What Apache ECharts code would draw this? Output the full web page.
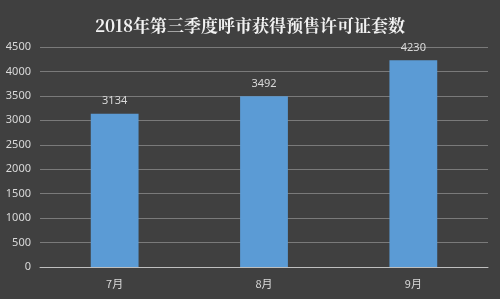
<!DOCTYPE html>
<html><head><meta charset="utf-8">
<script src="https://cdn.jsdelivr.net/npm/echarts@6/dist/echarts.min.js"></script>
<style>html,body{margin:0;padding:0;background:#404040;}#c{width:500px;height:299px;}</style>
</head><body><div id="c"></div>
<script>
const title = '2018年第三季度呼市获得预售许可证套数';
const categories = ['7月', '8月', '9月'];
const values = [3134, 3492, 4230];

const chart = echarts.init(document.getElementById('c'), null, {renderer: 'canvas'});
chart.setOption({
  backgroundColor: '#404040',
  animation: false,
  title: {
    text: title, left: 'center', top: 12,
    textStyle: {color: '#f2f2f2', fontSize: 17, fontWeight: 'bold', fontFamily: '"Noto Serif CJK SC", "Noto Sans CJK SC", serif'}
  },
  grid: {left: 40, right: 12, top: 47, bottom: 32, containLabel: false},
  xAxis: {
    type: 'category', data: categories,
    axisLine: {lineStyle: {color: '#bfbfbf', width: 1}},
    axisTick: {show: false},
    axisLabel: {color: '#d9d9d9', fontSize: 11, margin: 11, fontFamily: '"Noto Sans CJK SC", sans-serif'}
  },
  yAxis: {
    type: 'value', min: 0, max: 4500, interval: 500,
    axisLine: {show: false}, axisTick: {show: false},
    splitLine: {lineStyle: {color: '#7a7a7a', width: 1}},
    axisLabel: {color: '#d9d9d9', fontSize: 11, margin: 9, fontFamily: '"Noto Sans", sans-serif',
      formatter: v => String(v)}
  },
  series: [{
    type: 'bar', data: values, barWidth: '32%',
    itemStyle: {color: '#5b9bd5'},
    label: {show: true, position: 'top', color: '#d9d9d9', fontSize: 11, distance: 7, fontFamily: '"Noto Sans", sans-serif',
      formatter: p => String(p.value)}
  }]
});
</script></body></html>
